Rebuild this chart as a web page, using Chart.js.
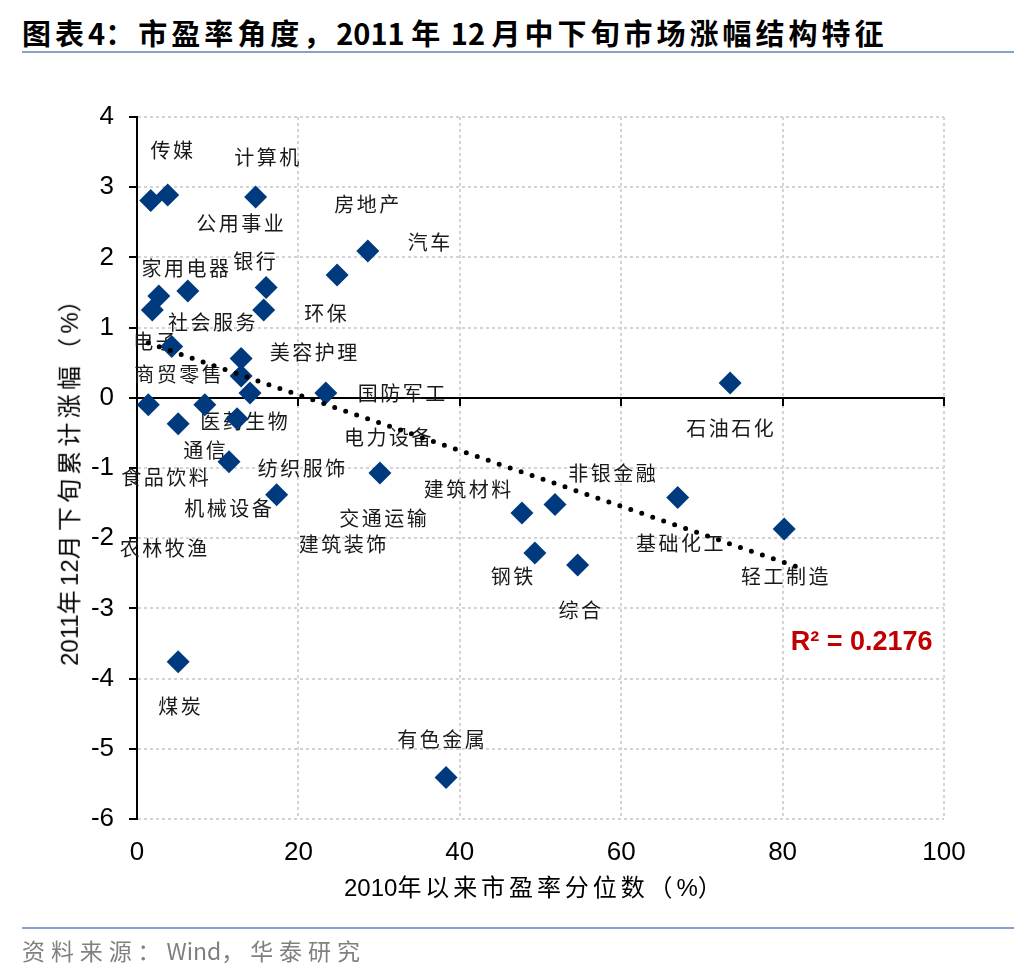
<!DOCTYPE html>
<html lang="zh-CN">
<head>
<meta charset="utf-8">
<script src="https://cdn.jsdelivr.net/npm/chart.js@4.4.1/dist/chart.umd.min.js"></script>
<style>
html,body{margin:0;padding:0;background:#fff;}
#page{position:relative;width:1036px;height:976px;overflow:hidden;background:#fff;}
#c{position:absolute;left:0;top:0;}
.txt{position:absolute;white-space:nowrap;}
.txt span.a{letter-spacing:0;}
#title{left:22px;top:13px;font-weight:bold;font-size:29px;font-family:"Noto Sans CJK SC";color:#000;line-height:38px;}
.rule{position:absolute;left:22px;width:992px;height:2px;background:#86A0CE;}
#src{left:22px;top:934px;font-size:23px;font-family:"Noto Sans CJK SC";color:#808080;line-height:32px;}
#xt{top:872px;font-size:24px;font-family:"Liberation Sans","Noto Sans CJK SC";color:#000;line-height:32px;}
#yt{font-size:24px;font-family:"Liberation Sans","Noto Sans CJK SC";color:#000;line-height:32px;}
</style>
</head>
<body>
<div id="page">
  <div id="title" class="txt">图表4：市盈率角度，2011 年 12 月中下旬市场涨幅结构特征</div>
  <div class="rule" style="top:51px"></div>
  <canvas id="c" width="1036" height="976"></canvas>
  <div id="xt" class="txt">2010年以来市盈率分位数（%）</div>
  <div id="yt" class="txt">2011年12月下旬累计涨幅（%）</div>
  <div class="rule" style="top:927px"></div>
  <div id="src" class="txt">资料来源：Wind，华泰研究</div>
</div>
<script>
// ---- data ----
const sectors = ['传媒','计算机','公用事业','房地产','汽车','家用电器','银行','环保','社会服务','电子',
  '美容护理','商贸零售','国防军工','医药生物','通信','电力设备','食品饮料','纺织服饰','机械设备','交通运输',
  '建筑装饰','农林牧渔','建筑材料','非银金融','石油石化','钢铁','综合','基础化工','轻工制造','煤炭','有色金属'];
const pePercentile = [1.7,14.7,3.8,24.8,28.6,2.7,16.0,15.7,6.3,1.9,
  12.9,4.3,23.4,12.4,11.4,14.0,1.4,12.9,17.3,30.1,
  8.4,5.1,47.7,51.8,73.5,49.3,54.6,67.0,80.2,5.1,38.3];
const dec2011Gain = [2.81,2.86,2.89,1.75,2.09,1.45,1.57,1.25,1.52,1.25,
  0.56,0.73,0.07,-0.30,-0.91,0.07,-0.10,0.31,-1.38,-1.07,
  -0.10,-0.37,-1.64,-1.52,0.21,-2.21,-2.38,-1.42,-1.87,-3.76,-5.41];
// linear trendline end points
const trendX = [1.4, 81.8];
const trendY = [0.78, -2.41];
const rSquaredText = 'R² = 0.2176';
const xTicks = [0,20,40,60,80,100];
const yTicks = [4,3,2,1,0,-1,-2,-3,-4,-5,-6];

// ---- label placement (layout, in axis units) ----
const labelAnchor = {
  '传媒':[4.34,3.53],'计算机':[16.1,3.42],'公用事业':[12.8,2.48],'房地产':[28.5,2.75],'汽车':[36.2,2.21],
  '家用电器':[6.0,1.85],'银行':[14.6,1.95],'环保':[23.4,1.20],'社会服务':[9.3,1.07],'电子':[2.2,0.81],
  '美容护理':[21.9,0.65],'商贸零售':[5.1,0.33],'国防军工':[32.8,0.06],'医药生物':[13.3,-0.34],'通信':[8.4,-0.75],
  '电力设备':[31.1,-0.56],'食品饮料':[3.5,-1.13],'纺织服饰':[20.4,-1.00],'机械设备':[11.3,-1.57],'交通运输':[30.5,-1.72],
  '建筑装饰':[25.5,-2.09],'农林牧渔':[3.3,-2.14],'建筑材料':[41.0,-1.31],'非银金融':[58.9,-1.07],'石油石化':[73.5,-0.44],
  '钢铁':[46.5,-2.54],'综合':[54.9,-3.03],'基础化工':[67.3,-2.08],'轻工制造':[80.3,-2.54],'煤炭':[5.3,-4.40],'有色金属':[37.7,-4.86]
};
const rSquaredAnchor = [89.8,-3.49];

const points = pePercentile.map((v,i)=>({x:v, y:dec2011Gain[i]}));
const trend = trendX.map((v,i)=>({x:v, y:trendY[i]}));

const deco = {
  id:'deco',
  beforeDatasetsDraw(chart){
    const {ctx, chartArea:a, scales:{x,y}} = chart;
    ctx.save();
    const y0 = Math.round(y.getPixelForValue(0));
    ctx.strokeStyle='#000'; ctx.lineWidth=2;
    ctx.beginPath(); ctx.moveTo(a.left,y0); ctx.lineTo(a.right+1,y0); ctx.stroke();
    xTicks.forEach(v=>{const px=Math.round(x.getPixelForValue(v)); ctx.beginPath(); ctx.moveTo(px,y0); ctx.lineTo(px,y0+8); ctx.stroke();});
    yTicks.forEach(v=>{const py=Math.round(y.getPixelForValue(v)); ctx.beginPath(); ctx.moveTo(a.left-8,py); ctx.lineTo(a.left,py); ctx.stroke();});
    ctx.font='20px "Noto Sans CJK SC"';
    ctx.fillStyle='#1a1a1a';
    ctx.textAlign='center'; ctx.textBaseline='middle';
    try{ctx.letterSpacing='2.5px';}catch(e){}
    sectors.forEach(s=>{
      const p = labelAnchor[s];
      ctx.fillText(s, x.getPixelForValue(p[0])+1, y.getPixelForValue(p[1]));
    });
    ctx.restore();
  },
  afterDatasetsDraw(chart){
    const {ctx, scales:{x,y}} = chart;
    ctx.save();
    ctx.font='bold 27px "Liberation Sans"';
    ctx.fillStyle='#C00000';
    ctx.textAlign='center'; ctx.textBaseline='middle';
    ctx.fillText(rSquaredText, x.getPixelForValue(rSquaredAnchor[0]), y.getPixelForValue(rSquaredAnchor[1]));
    ctx.restore();
  }
};

new Chart(document.getElementById('c').getContext('2d'), {
  type:'scatter',
  data:{datasets:[
    {data:trend, showLine:true, borderColor:'#000', borderWidth:5, borderDash:[0,11.6], borderCapStyle:'round',
     pointRadius:0, pointHoverRadius:0, fill:false},
    {data:points, pointStyle:'rectRot', pointRadius:11.5, pointHoverRadius:11.5,
     backgroundColor:'#003A7E', borderColor:'#003A7E', borderWidth:0}
  ]},
  options:{
    responsive:false, animation:false,
    layout:{padding:{left:0, top:117, right:92, bottom:0}},
    plugins:{legend:{display:false}, tooltip:{enabled:false}},
    scales:{
      x:{type:'linear', min:0, max:100, position:'bottom',
         ticks:{stepSize:20, color:'#000', padding:18, font:{family:'"Liberation Sans"', size:26}},
         grid:{color:'#D4D4D4', lineWidth:2, drawTicks:false},
         border:{display:false, dash:[3,3]},
         afterFit(s){s.height=157;}},
      y:{type:'linear', min:-6, max:4,
         ticks:{stepSize:1, color:'#000', padding:23, font:{family:'"Liberation Sans"', size:26}},
         grid:{color:'#D4D4D4', lineWidth:2, drawTicks:false},
         border:{display:true, color:'#000', width:2, dash:[3,3]},
         afterFit(s){s.width=137;}}
    }
  },
  plugins:[deco]
});

// spread extra width over the CJK characters only; Latin runs stay tight
function fit(el, w){
  const text = el.textContent;
  el.innerHTML = '';
  let nWide = 0;
  text.split(/([\x20-\x7E]+)/).forEach(part=>{
    if(!part) return;
    if(/^[\x20-\x7E]+$/.test(part)){
      const sp=document.createElement('span'); sp.className='a'; sp.textContent=part; el.appendChild(sp);
    } else {
      el.appendChild(document.createTextNode(part)); nWide += [...part].length;
    }
  });
  const nat = el.offsetWidth;
  el.style.letterSpacing = ((w-nat)/nWide)+'px';
}
const t=document.getElementById('title'); fit(t, 866);
const s=document.getElementById('src'); fit(s, 344);
const xt=document.getElementById('xt'); fit(xt, 382); xt.style.left=(535-xt.offsetWidth/2)+'px';
const yt=document.getElementById('yt'); fit(yt, 382);
yt.style.left=(70-yt.offsetWidth/2)+'px'; yt.style.top=(475-yt.offsetHeight/2)+'px';
yt.style.transform='rotate(-90deg)';
</script>
</body>
</html>
